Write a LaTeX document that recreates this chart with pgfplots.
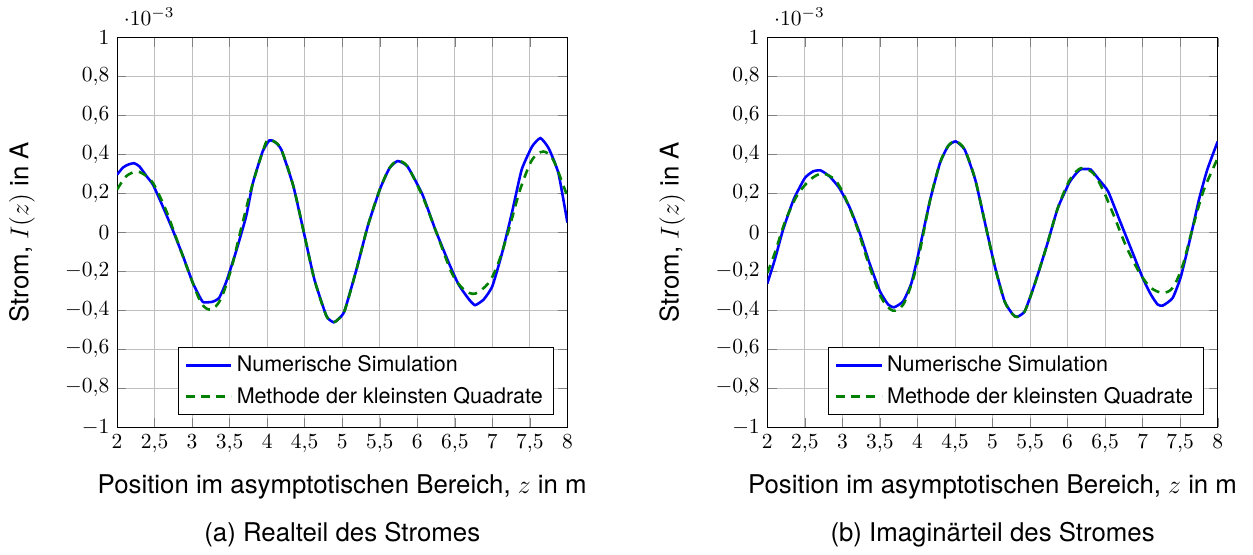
\documentclass[border=0pt]{standalone}
\usepackage[no-math]{fontspec}
\setmainfont{TeX Gyre Heros}
\usepackage{pgfplots}
\pgfplotsset{compat=1.18}

\definecolor{fitgreen}{rgb}{0,0.5,0}

\pgfplotsset{
  stromaxis/.style={
    width=209.5pt, height=181.1pt, scale only axis,
    xmin=2, xmax=8, ymin=-1e-3, ymax=1e-3,
    xtick={2,2.5,3,3.5,4,4.5,5,5.5,6,6.5,7,7.5,8},
    ytick={-1e-3,-0.8e-3,-0.6e-3,-0.4e-3,-0.2e-3,0,0.2e-3,0.4e-3,0.6e-3,0.8e-3,1e-3},
    /pgf/number format/use comma,
    grid=major,
    xlabel={Position im asymptotischen Bereich, $z$ in m},
    ylabel={Strom, $I(z)$ in A},
    label style={font=\fontsize{12}{14}\selectfont},
    xlabel style={at={(axis description cs:0.5,-0.154)}, anchor=center},
    ylabel style={at={(axis description cs:-0.211,0.5)}, anchor=center},
    legend pos=south east,
    legend style={font=\fontsize{10}{12}\selectfont, row sep=1.5pt},
    legend cell align=left,
    legend image code/.code={\draw[#1] (0pt,0pt) -- (21pt,0pt);},
  },
  numsim/.style={blue, line width=1.2pt, smooth, tension=0.3},
  lsq/.style={fitgreen, line width=1.2pt, dash pattern=on 4pt off 3pt, smooth},
}

\begin{document}
\begin{tikzpicture}
\path (-54.42pt,-59.53pt) rectangle (528.37pt,198.6pt);

\begin{axis}[stromaxis, at={(0pt,0pt)}, anchor=south west]
\addplot[numsim] coordinates {
(2.00,0.296e-3) (2.08,0.333e-3) (2.15,0.348e-3) (2.23,0.355e-3) (2.30,0.338e-3)
(2.40,0.285e-3) (2.48,0.244e-3) (2.61,0.133e-3) (2.74,0.014e-3) (2.88,-0.123e-3)
(3.01,-0.26e-3) (3.10,-0.33e-3) (3.15,-0.359e-3) (3.27,-0.357e-3) (3.36,-0.337e-3)
(3.45,-0.26e-3) (3.58,-0.106e-3) (3.72,0.082e-3) (3.81,0.253e-3) (3.94,0.415e-3)
(4.03,0.472e-3) (4.10,0.465e-3) (4.19,0.424e-3) (4.35,0.236e-3) (4.50,-0.02e-3)
(4.63,-0.243e-3) (4.79,-0.43e-3) (4.885,-0.462e-3) (4.95,-0.445e-3) (5.03,-0.405e-3)
(5.19,-0.191e-3) (5.34,0.031e-3) (5.50,0.219e-3) (5.63,0.33e-3) (5.74,0.366e-3)
(5.87,0.338e-3) (6.07,0.193e-3) (6.24,0.014e-3) (6.42,-0.157e-3) (6.55,-0.268e-3)
(6.69,-0.345e-3) (6.77,-0.374e-3) (6.885,-0.345e-3) (7.00,-0.277e-3) (7.13,-0.106e-3)
(7.26,0.099e-3) (7.39,0.321e-3) (7.53,0.441e-3) (7.64,0.484e-3) (7.75,0.432e-3)
(7.88,0.304e-3) (8.00,0.05e-3)
};
\addlegendentry{Numerische Simulation}
\addplot[lsq] coordinates {
(2.00,0.219e-3) (2.12,0.287e-3) (2.25,0.312e-3) (2.35,0.300e-3) (2.48,0.253e-3)
(2.65,0.116e-3) (2.79,-0.03e-3) (2.96,-0.209e-3) (3.12,-0.362e-3) (3.25,-0.397e-3)
(3.38,-0.345e-3) (3.52,-0.19e-3) (3.65,0.014e-3) (3.81,0.253e-3) (3.98,0.458e-3)
(4.04,0.472e-3) (4.10,0.465e-3) (4.19,0.424e-3) (4.35,0.236e-3) (4.50,-0.02e-3)
(4.63,-0.243e-3) (4.79,-0.43e-3) (4.885,-0.462e-3) (4.95,-0.445e-3) (5.03,-0.405e-3)
(5.19,-0.191e-3) (5.34,0.031e-3) (5.50,0.219e-3) (5.63,0.33e-3) (5.74,0.366e-3)
(5.87,0.338e-3) (6.07,0.185e-3) (6.24,0.014e-3) (6.46,-0.209e-3) (6.62,-0.294e-3)
(6.77,-0.315e-3) (6.95,-0.26e-3) (7.08,-0.157e-3) (7.22,0.014e-3) (7.37,0.219e-3)
(7.53,0.373e-3) (7.68,0.415e-3) (7.81,0.373e-3) (7.95,0.236e-3) (8.00,0.185e-3)
};
\addlegendentry{Methode der kleinsten Quadrate}
\end{axis}

\begin{axis}[stromaxis, at={(302.47pt,0pt)}, anchor=south west]
\addplot[numsim] coordinates {
(2.00,-0.263e-3) (2.10,-0.14e-3) (2.21,0.014e-3) (2.35,0.168e-3) (2.50,0.279e-3)
(2.61,0.313e-3) (2.71,0.318e-3) (2.83,0.287e-3) (2.96,0.227e-3) (3.10,0.125e-3)
(3.23,-0.003e-3) (3.36,-0.157e-3) (3.50,-0.303e-3) (3.61,-0.371e-3) (3.69,-0.385e-3)
(3.81,-0.354e-3) (3.92,-0.26e-3) (4.03,-0.08e-3) (4.17,0.168e-3) (4.30,0.356e-3)
(4.41,0.444e-3) (4.51,0.467e-3) (4.63,0.424e-3) (4.77,0.27e-3) (4.90,0.048e-3)
(5.03,-0.174e-3) (5.16,-0.354e-3) (5.27,-0.422e-3) (5.33,-0.434e-3) (5.43,-0.405e-3)
(5.56,-0.268e-3) (5.72,-0.072e-3) (5.87,0.125e-3) (6.03,0.26e-3) (6.16,0.321e-3)
(6.25,0.325e-3) (6.31,0.322e-3) (6.42,0.27e-3) (6.54,0.21e-3) (6.69,0.065e-3)
(6.85,-0.089e-3) (7.00,-0.234e-3) (7.11,-0.32e-3) (7.20,-0.371e-3) (7.27,-0.376e-3)
(7.40,-0.337e-3) (7.51,-0.226e-3) (7.64,-0.02e-3) (7.75,0.168e-3) (7.86,0.321e-3)
(8.00,0.467e-3)
};
\addlegendentry{Numerische Simulation}
\addplot[lsq] coordinates {
(2.00,-0.209e-3) (2.10,-0.106e-3) (2.23,0.048e-3) (2.39,0.185e-3) (2.57,0.27e-3)
(2.73,0.302e-3) (2.90,0.27e-3) (3.03,0.185e-3) (3.19,0.031e-3) (3.36,-0.174e-3)
(3.52,-0.337e-3) (3.67,-0.402e-3) (3.81,-0.371e-3) (3.94,-0.243e-3) (4.03,-0.1e-3)
(4.17,0.168e-3) (4.30,0.356e-3) (4.41,0.444e-3) (4.51,0.467e-3) (4.63,0.424e-3)
(4.77,0.27e-3) (4.90,0.048e-3) (5.03,-0.174e-3) (5.16,-0.354e-3) (5.27,-0.422e-3)
(5.33,-0.434e-3) (5.43,-0.405e-3) (5.56,-0.268e-3) (5.72,-0.072e-3) (5.87,0.125e-3)
(6.03,0.27e-3) (6.18,0.33e-3) (6.34,0.304e-3) (6.47,0.219e-3) (6.62,0.082e-3)
(6.78,-0.072e-3) (6.96,-0.209e-3) (7.11,-0.285e-3) (7.27,-0.311e-3) (7.40,-0.285e-3)
(7.53,-0.174e-3) (7.66,0.014e-3) (7.80,0.202e-3) (7.93,0.321e-3) (8.00,0.381e-3)
};
\addlegendentry{Methode der kleinsten Quadrate}
\end{axis}

\node[font=\fontsize{12}{14}\selectfont] at (104.77pt,-50.2pt) {(a) Realteil des Stromes};
\node[font=\fontsize{12}{14}\selectfont] at (407.24pt,-50.2pt) {(b) Imaginärteil des Stromes};
\end{tikzpicture}
\end{document}
